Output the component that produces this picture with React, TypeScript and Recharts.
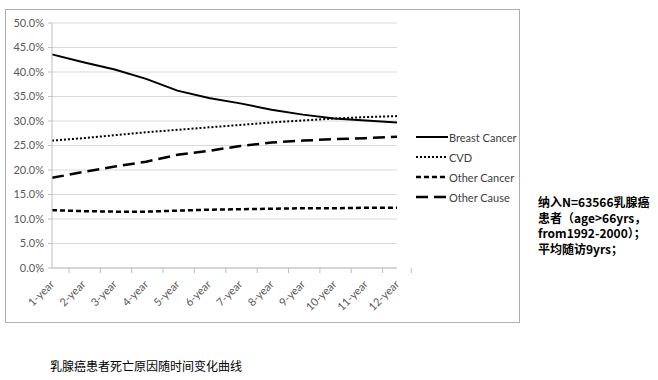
import React from "react";
import { LineChart, Line, XAxis, YAxis, CartesianGrid } from "recharts";

const years = ["1-year", "2-year", "3-year", "4-year", "5-year", "6-year", "7-year", "8-year", "9-year", "10-year", "11-year", "12-year"];
const breastCancer = [43.6, 42.0, 40.5, 38.6, 36.2, 34.7, 33.6, 32.3, 31.3, 30.5, 30.1, 29.7];
const cvd = [26.0, 26.5, 27.1, 27.7, 28.2, 28.7, 29.2, 29.7, 30.1, 30.5, 30.8, 31.0];
const otherCancer = [11.8, 11.6, 11.5, 11.5, 11.7, 11.9, 12.0, 12.1, 12.2, 12.2, 12.3, 12.3];
const otherCause = [18.4, 19.6, 20.7, 21.7, 23.1, 23.9, 24.9, 25.6, 26.0, 26.3, 26.5, 26.8];
const yTicks = [0, 5, 10, 15, 20, 25, 30, 35, 40, 45, 50];

const data = years.map((year, i) => ({
  year,
  breast: breastCancer[i],
  cvd: cvd[i],
  otherCancer: otherCancer[i],
  otherCause: otherCause[i],
}));

const series = [
  { key: "breast", name: "Breast Cancer", dash: undefined, width: 2 },
  { key: "cvd", name: "CVD", dash: "2 2", width: 2 },
  { key: "otherCancer", name: "Other Cancer", dash: "5 3", width: 2.5 },
  { key: "otherCause", name: "Other Cause", dash: "12 6", width: 2.5 },
];

const CHART_W = 515;
const CHART_H = 314;
const PLOT_LEFT = 47;
const PLOT_RIGHT = 123;
const BAND = (CHART_W - PLOT_LEFT - PLOT_RIGHT) / years.length;
const labelFont = "Lato, 'Open Sans', sans-serif";

function YearTick(props: any) {
  const { x, y, payload, index } = props;
  const isLast = index === years.length - 1;
  return (
    <g transform={`translate(${x},${y})`}>
      <line x1={-BAND / 2} x2={-BAND / 2} y1={0} y2={5} stroke="#bfbfbf" />
      {isLast && <line x1={BAND / 2} x2={BAND / 2} y1={0} y2={5} stroke="#bfbfbf" />}
      <text
        x={0}
        y={0}
        transform="translate(1,15) rotate(-45)"
        textAnchor="end"
        dominantBaseline="middle"
        fill="#595959"
        fontSize={11}
        fontFamily={labelFont}
      >
        {payload.value}
      </text>
    </g>
  );
}

function LegendBox() {
  return (
    <div style={{ fontFamily: labelFont, fontSize: 11, color: "#404040", whiteSpace: "nowrap" }}>
      {series.map((s) => (
        <div key={s.key} style={{ display: "flex", alignItems: "center", height: 20 }}>
          <svg width={32} height={6} style={{ marginRight: 1 }}>
            <line x1={0} x2={32} y1={3} y2={3} stroke="#000" strokeWidth={s.width} strokeDasharray={s.dash} />
          </svg>
          <span>{s.name}</span>
        </div>
      ))}
    </div>
  );
}

export default function App() {
  return (
    <div style={{ position: "absolute", left: 0, top: 0, width: 658, height: 380, background: "#fff" }}>
      <div
        style={{
          position: "absolute",
          left: 5,
          top: 9,
          width: CHART_W,
          height: CHART_H,
          border: "1px solid #b0b0b0",
          boxSizing: "border-box",
        }}
      >
        <LineChart
          width={CHART_W}
          height={CHART_H}
          data={data}
          margin={{ top: 14, right: PLOT_RIGHT, bottom: 0, left: 0 }}
          style={{ position: "absolute", left: -1, top: -1 }}
        >
          <CartesianGrid vertical={false} stroke="#d9d9d9" />
          <XAxis
            dataKey="year"
            height={55}
            interval={0}
            tickSize={0}
            tickMargin={0}
            tickLine={false}
            axisLine={{ stroke: "#bfbfbf" }}
            tick={<YearTick />}
          />
          <YAxis
            width={PLOT_LEFT}
            domain={[0, 50]}
            ticks={yTicks}
            interval={0}
            tickSize={4}
            tickMargin={4}
            tickLine={{ stroke: "#bfbfbf" }}
            axisLine={{ stroke: "#bfbfbf" }}
            tick={{ fill: "#595959", fontSize: 11, fontFamily: labelFont }}
            tickFormatter={(v) => `${Number(v).toFixed(1)}%`}
          />
          {series.map((s) => (
            <Line
              key={s.key}
              type="linear"
              dataKey={s.key}
              name={s.name}
              stroke="#000"
              strokeWidth={s.width}
              strokeDasharray={s.dash}
              dot={false}
              activeDot={false}
              isAnimationActive={false}
            />
          ))}
        </LineChart>
        <div style={{ position: "absolute", left: 410, top: 117 }}>
          <LegendBox />
        </div>
      </div>
      <div
        style={{
          position: "absolute",
          left: 538,
          top: 194,
          fontFamily: "'Noto Sans CJK SC', sans-serif",
          fontWeight: 700,
          fontSize: 12,
          lineHeight: "15.5px",
          color: "#000",
          whiteSpace: "pre",
        }}
      >
        {"纳入N=63566乳腺癌\n患者（age>66yrs，\nfrom1992-2000）；\n平均随访9yrs；"}
      </div>
      <div
        style={{
          position: "absolute",
          left: 50,
          top: 357,
          fontFamily: "'Noto Sans CJK SC', sans-serif",
          fontSize: 12,
          color: "#000",
          whiteSpace: "pre",
        }}
      >
        乳腺癌患者死亡原因随时间变化曲线
      </div>
    </div>
  );
}
